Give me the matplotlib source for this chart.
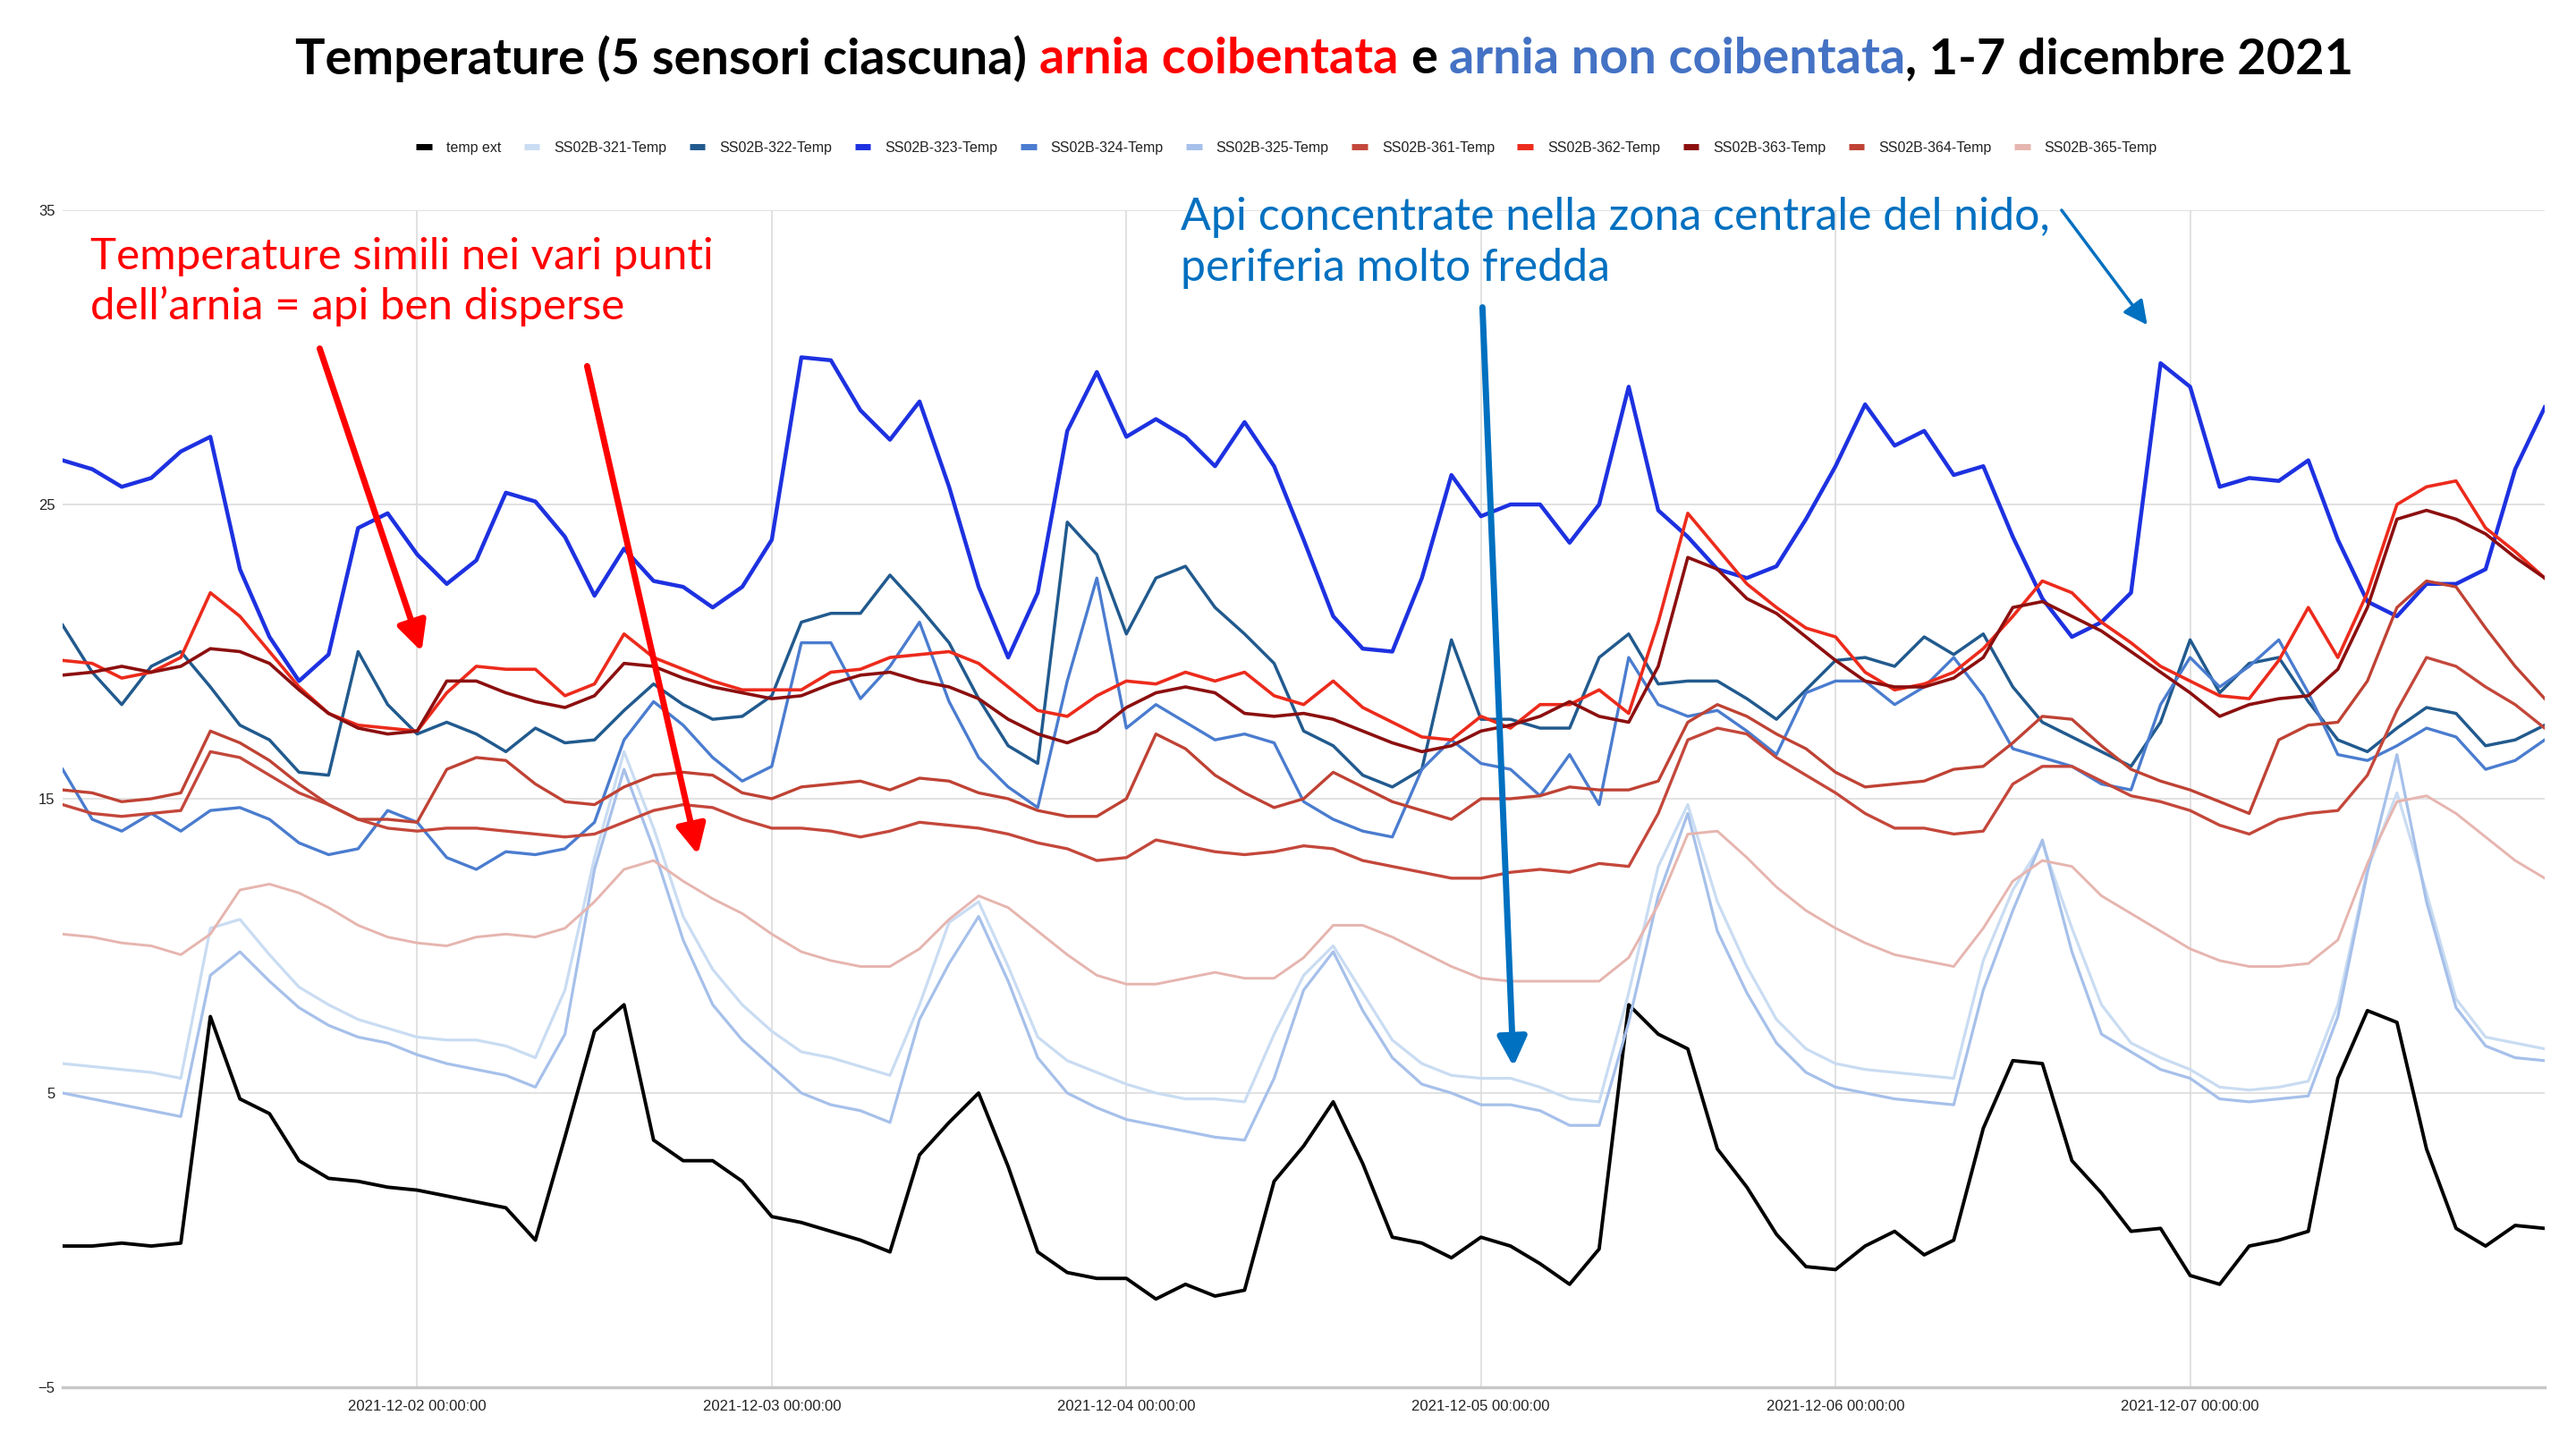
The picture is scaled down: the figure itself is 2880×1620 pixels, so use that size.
import matplotlib
matplotlib.use('Agg')
import matplotlib.pyplot as plt
import matplotlib.dates as mdates
from matplotlib.lines import Line2D
import pandas as pd

# readings every 2 hours, 1 Dec 00:00 -> 8 Dec 00:00
times = pd.date_range('2021-12-01 00:00', '2021-12-08 00:00', freq='2h')

temp_ext = [-0.2, -0.2, -0.1, -0.2, -0.1, 7.6, 4.8, 4.3, 2.7, 2.1, 2.0, 1.8,
            1.7, 1.5, 1.3, 1.1, 0.0, 3.5, 7.1, 8.0, 3.4, 2.7, 2.7, 2.0,
            0.8, 0.6, 0.3, 0.0, -0.4, 2.9, 4.0, 5.0, 2.5, -0.4, -1.1, -1.3,
            -1.3, -2.0, -1.5, -1.9, -1.7, 2.0, 3.2, 4.7, 2.6, 0.1, -0.1, -0.6,
            0.1, -0.2, -0.8, -1.5, -0.3, 8.0, 7.0, 6.5, 3.1, 1.8, 0.2, -0.9,
            -1.0, -0.2, 0.3, -0.5, 0.0, 3.8, 6.1, 6.0, 2.7, 1.6, 0.3, 0.4,
            -1.2, -1.5, -0.2, 0.0, 0.3, 5.5, 7.8, 7.4, 3.1, 0.4, -0.2, 0.5,
            0.4]

ss321 = [6.0, 5.9, 5.8, 5.7, 5.5, 10.6, 10.9, 9.7, 8.6, 8.0, 7.5, 7.2,
         6.9, 6.8, 6.8, 6.6, 6.2, 8.5, 13.0, 16.6, 14.0, 11.0, 9.2, 8.0,
         7.1, 6.4, 6.2, 5.9, 5.6, 8.0, 10.8, 11.5, 9.3, 6.9, 6.1, 5.7,
         5.3, 5.0, 4.8, 4.8, 4.7, 7.0, 9.0, 10.0, 8.4, 6.8, 6.0, 5.6,
         5.5, 5.5, 5.2, 4.8, 4.7, 8.4, 12.7, 14.8, 11.5, 9.3, 7.5, 6.5,
         6.0, 5.8, 5.7, 5.6, 5.5, 9.5, 11.9, 13.5, 10.6, 8.0, 6.7, 6.2,
         5.8, 5.2, 5.1, 5.2, 5.4, 8.0, 12.6, 15.2, 11.8, 8.2, 6.9, 6.7,
         6.5]

ss322 = [20.9, 19.3, 18.2, 19.5, 20.0, 18.8, 17.5, 17.0, 15.9, 15.8, 20.0, 18.2,
         17.2, 17.6, 17.2, 16.6, 17.4, 16.9, 17.0, 18.0, 18.9, 18.2, 17.7, 17.8,
         18.5, 21.0, 21.3, 21.3, 22.6, 21.5, 20.3, 18.4, 16.8, 16.2, 24.4, 23.3,
         20.6, 22.5, 22.9, 21.5, 20.6, 19.6, 17.3, 16.8, 15.8, 15.4, 16.0, 20.4,
         17.7, 17.7, 17.4, 17.4, 19.8, 20.6, 18.9, 19.0, 19.0, 18.4, 17.7, 18.7,
         19.7, 19.8, 19.5, 20.5, 19.9, 20.6, 18.8, 17.6, 17.1, 16.6, 16.1, 17.6,
         20.4, 18.6, 19.6, 19.8, 18.3, 17.0, 16.6, 17.4, 18.1, 17.9, 16.8, 17.0,
         17.5]

ss323 = [26.5, 26.2, 25.6, 25.9, 26.8, 27.3, 22.8, 20.5, 19.0, 19.9, 24.2, 24.7,
         23.3, 22.3, 23.1, 25.4, 25.1, 23.9, 21.9, 23.5, 22.4, 22.2, 21.5, 22.2,
         23.8, 30.0, 29.9, 28.2, 27.2, 28.5, 25.6, 22.2, 19.8, 22.0, 27.5, 29.5,
         27.3, 27.9, 27.3, 26.3, 27.8, 26.3, 23.8, 21.2, 20.1, 20.0, 22.5, 26.0,
         24.6, 25.0, 25.0, 23.7, 25.0, 29.0, 24.8, 23.9, 22.8, 22.5, 22.9, 24.5,
         26.3, 28.4, 27.0, 27.5, 26.0, 26.3, 23.9, 21.8, 20.5, 21.0, 22.0, 29.8,
         29.0, 25.6, 25.9, 25.8, 26.5, 23.8, 21.7, 21.2, 22.3, 22.3, 22.8, 26.2,
         28.3]

ss324 = [16.0, 14.3, 13.9, 14.5, 13.9, 14.6, 14.7, 14.3, 13.5, 13.1, 13.3, 14.6,
         14.2, 13.0, 12.6, 13.2, 13.1, 13.3, 14.2, 17.0, 18.3, 17.5, 16.4, 15.6,
         16.1, 20.3, 20.3, 18.4, 19.5, 21.0, 18.3, 16.4, 15.4, 14.7, 19.0, 22.5,
         17.4, 18.2, 17.6, 17.0, 17.2, 16.9, 14.9, 14.3, 13.9, 13.7, 16.0, 17.0,
         16.2, 16.0, 15.1, 16.5, 14.8, 19.8, 18.2, 17.8, 18.0, 17.3, 16.5, 18.6,
         19.0, 19.0, 18.2, 18.8, 19.8, 18.5, 16.7, 16.4, 16.1, 15.5, 15.3, 18.2,
         19.8, 18.8, 19.5, 20.4, 18.6, 16.5, 16.3, 16.8, 17.4, 17.1, 16.0, 16.3,
         17.0]

ss325 = [5.0, 4.8, 4.6, 4.4, 4.2, 9.0, 9.8, 8.8, 7.9, 7.3, 6.9, 6.7,
         6.3, 6.0, 5.8, 5.6, 5.2, 7.0, 12.6, 16.0, 13.3, 10.2, 8.0, 6.8,
         5.9, 5.0, 4.6, 4.4, 4.0, 7.5, 9.4, 11.0, 8.8, 6.2, 5.0, 4.5,
         4.1, 3.9, 3.7, 3.5, 3.4, 5.5, 8.5, 9.8, 7.8, 6.2, 5.3, 5.0,
         4.6, 4.6, 4.4, 3.9, 3.9, 7.4, 11.7, 14.5, 10.5, 8.4, 6.7, 5.7,
         5.2, 5.0, 4.8, 4.7, 4.6, 8.5, 11.2, 13.6, 9.8, 7.0, 6.4, 5.8,
         5.5, 4.8, 4.7, 4.8, 4.9, 7.6, 12.5, 16.5, 11.5, 7.9, 6.6, 6.2,
         6.1]

ss361 = [14.8, 14.5, 14.4, 14.5, 14.6, 16.6, 16.4, 15.8, 15.2, 14.8, 14.3, 14.0,
         13.9, 14.0, 14.0, 13.9, 13.8, 13.7, 13.8, 14.2, 14.6, 14.8, 14.7, 14.3,
         14.0, 14.0, 13.9, 13.7, 13.9, 14.2, 14.1, 14.0, 13.8, 13.5, 13.3, 12.9,
         13.0, 13.6, 13.4, 13.2, 13.1, 13.2, 13.4, 13.3, 12.9, 12.7, 12.5, 12.3,
         12.3, 12.5, 12.6, 12.5, 12.8, 12.7, 14.5, 17.0, 17.4, 17.2, 16.4, 15.8,
         15.2, 14.5, 14.0, 14.0, 13.8, 13.9, 15.5, 16.1, 16.1, 15.6, 15.1, 14.9,
         14.6, 14.1, 13.8, 14.3, 14.5, 14.6, 15.8, 18.0, 19.8, 19.5, 18.8, 18.2,
         17.4]

ss362 = [19.7, 19.6, 19.1, 19.3, 19.8, 22.0, 21.2, 20.0, 18.8, 17.9, 17.5, 17.4,
         17.3, 18.6, 19.5, 19.4, 19.4, 18.5, 18.9, 20.6, 19.8, 19.4, 19.0, 18.7,
         18.7, 18.7, 19.3, 19.4, 19.8, 19.9, 20.0, 19.6, 18.8, 18.0, 17.8, 18.5,
         19.0, 18.9, 19.3, 19.0, 19.3, 18.5, 18.2, 19.0, 18.1, 17.6, 17.1, 17.0,
         17.8, 17.4, 18.2, 18.2, 18.7, 17.9, 21.0, 24.7, 23.5, 22.3, 21.5, 20.8,
         20.5, 19.3, 18.7, 18.9, 19.3, 20.1, 21.2, 22.4, 22.0, 21.0, 20.3, 19.5,
         19.0, 18.5, 18.4, 19.7, 21.5, 19.8, 22.0, 25.0, 25.6, 25.8, 24.2, 23.4,
         22.5]

ss363 = [19.2, 19.3, 19.5, 19.3, 19.5, 20.1, 20.0, 19.6, 18.7, 17.9, 17.4, 17.2,
         17.3, 19.0, 19.0, 18.6, 18.3, 18.1, 18.5, 19.6, 19.5, 19.1, 18.8, 18.6,
         18.4, 18.5, 18.9, 19.2, 19.3, 19.0, 18.8, 18.4, 17.7, 17.2, 16.9, 17.3,
         18.1, 18.6, 18.8, 18.6, 17.9, 17.8, 17.9, 17.7, 17.3, 16.9, 16.6, 16.8,
         17.3, 17.5, 17.8, 18.3, 17.8, 17.6, 19.5, 23.2, 22.8, 21.8, 21.3, 20.5,
         19.7, 19.0, 18.8, 18.8, 19.1, 19.8, 21.5, 21.7, 21.2, 20.7, 20.0, 19.3,
         18.6, 17.8, 18.2, 18.4, 18.5, 19.4, 21.5, 24.5, 24.8, 24.5, 24.0, 23.2,
         22.5]

ss364 = [15.3, 15.2, 14.9, 15.0, 15.2, 17.3, 16.9, 16.3, 15.5, 14.8, 14.3, 14.3,
         14.2, 16.0, 16.4, 16.3, 15.5, 14.9, 14.8, 15.4, 15.8, 15.9, 15.8, 15.2,
         15.0, 15.4, 15.5, 15.6, 15.3, 15.7, 15.6, 15.2, 15.0, 14.6, 14.4, 14.4,
         15.0, 17.2, 16.7, 15.8, 15.2, 14.7, 15.0, 15.9, 15.4, 14.9, 14.6, 14.3,
         15.0, 15.0, 15.1, 15.4, 15.3, 15.3, 15.6, 17.6, 18.2, 17.8, 17.2, 16.7,
         15.9, 15.4, 15.5, 15.6, 16.0, 16.1, 16.9, 17.8, 17.7, 16.8, 16.0, 15.6,
         15.3, 14.9, 14.5, 17.0, 17.5, 17.6, 19.0, 21.5, 22.4, 22.2, 20.8, 19.5,
         18.4]

ss365 = [10.4, 10.3, 10.1, 10.0, 9.7, 10.4, 11.9, 12.1, 11.8, 11.3, 10.7, 10.3,
         10.1, 10.0, 10.3, 10.4, 10.3, 10.6, 11.5, 12.6, 12.9, 12.2, 11.6, 11.1,
         10.4, 9.8, 9.5, 9.3, 9.3, 9.9, 10.9, 11.7, 11.3, 10.5, 9.7, 9.0,
         8.7, 8.7, 8.9, 9.1, 8.9, 8.9, 9.6, 10.7, 10.7, 10.3, 9.8, 9.3,
         8.9, 8.8, 8.8, 8.8, 8.8, 9.6, 11.4, 13.8, 13.9, 13.0, 12.0, 11.2,
         10.6, 10.1, 9.7, 9.5, 9.3, 10.6, 12.2, 12.9, 12.7, 11.7, 11.1, 10.5,
         9.9, 9.5, 9.3, 9.3, 9.4, 10.2, 12.8, 14.9, 15.1, 14.5, 13.7, 12.9,
         12.3]

labels = ['temp ext', 'SS02B-321-Temp', 'SS02B-322-Temp', 'SS02B-323-Temp',
          'SS02B-324-Temp', 'SS02B-325-Temp', 'SS02B-361-Temp', 'SS02B-362-Temp',
          'SS02B-363-Temp', 'SS02B-364-Temp', 'SS02B-365-Temp']
values = [temp_ext, ss321, ss322, ss323, ss324, ss325,
          ss361, ss362, ss363, ss364, ss365]
colors = ['#000000', '#c9dcf2', '#215a8e', '#1d31e0', '#4a7ccf', '#a6c0ea',
          '#c4473b', '#ec2b1c', '#8c0f0f', '#bf4234', '#e6b5af']
widths = [2.8, 2.3, 2.5, 3.2, 2.4, 2.3, 2.4, 2.6, 2.6, 2.4, 2.1]

fig = plt.figure(figsize=(28.8, 16.2), dpi=100)
ax = fig.add_axes([0.02431, 0.04259, 0.96354, 0.81235])

for vals, c, lw in zip(values, colors, widths):
    ax.plot(times, vals, color=c, lw=lw, solid_joinstyle='round')

ax.set_xlim(pd.Timestamp('2021-12-01'), pd.Timestamp('2021-12-08'))
ax.set_ylim(-5, 35)
ax.set_yticks([-5, 5, 15, 25, 35])
ax.set_xticks(pd.date_range('2021-12-02', '2021-12-07', freq='D'))
ax.xaxis.set_major_formatter(mdates.DateFormatter('%Y-%m-%d %H:%M:%S'))
ax.grid(True, color='#dcdcdc', lw=1.2)
ax.set_axisbelow(True)
for s in ['top', 'right', 'left']:
    ax.spines[s].set_visible(False)
ax.spines['bottom'].set_color('#c8c8c8')
ax.spines['bottom'].set_linewidth(2.5)
tick_font = ['Liberation Sans Narrow', 'Liberation Sans']
ax.tick_params(length=0, labelsize=12, labelcolor='#222222')
ax.tick_params(axis='x', pad=10)
ax.tick_params(axis='y', pad=6)
for lab in ax.get_xticklabels() + ax.get_yticklabels():
    lab.set_family(tick_font)

# legend
handles = [Line2D([], [], color=c, lw=5, solid_capstyle='butt') for c in colors]
fig.legend(handles, labels, loc='center', bbox_to_anchor=(0.4995, 0.898), ncol=11,
           frameon=False, prop={'family': tick_font, 'size': 11.5},
           handlelength=1.1, handletextpad=1.0, columnspacing=1.6,
           labelcolor='#222222')

fig.canvas.draw()
rend = fig.canvas.get_renderer()


def fit_row(parts, x0, y, target, size, weight, family):
    # parts: (text, colour, space_before)
    objs = [fig.text(0, y, s, color=c, fontsize=size, fontweight=weight,
                     family=family, va='center', ha='left') for s, c, _ in parts]
    probe_a = fig.text(0, 0, 'a a', fontsize=size, fontweight=weight, family=family)
    probe_b = fig.text(0, 0, 'aa', fontsize=size, fontweight=weight, family=family)
    space = probe_a.get_window_extent(rend).width - probe_b.get_window_extent(rend).width
    total = sum(o.get_window_extent(rend).width for o in objs)
    total += space * sum(1 for p in parts if p[2])
    scale = target / total
    probe_a.remove()
    probe_b.remove()
    x = x0
    for o, p in zip(objs, parts):
        o.set_fontsize(size * scale)
        if p[2]:
            x += space * scale
        o.set_x(x / 2880)
        x += o.get_window_extent(rend).width


title_family = ['Liberation Sans Narrow', 'Lato']
fit_row([('Temperature (5 sensori ciascuna)', '#000000', False),
         ('arnia coibentata', '#ff0000', True),
         ('e', '#000000', True),
         ('arnia non coibentata', '#4472c4', True),
         (', 1-7 dicembre 2021', '#000000', False)],
        330, 0.9595, 2300, 40, 'bold', title_family)

t0 = pd.Timestamp('2021-12-01')


def at(hours):
    return mdates.date2num(t0 + pd.Timedelta(hours=hours))


# annotations
note_family = ['Lato']
ax.text(at(1.9), 34.1, 'Temperature simili nei vari punti\ndell\u2019arnia = api ben disperse',
        color='#ff0000', fontsize=35.5, family=note_family, va='top', ha='left',
        linespacing=1.3)
ax.text(at(75.7), 35.45, 'Api concentrate nella zona centrale del nido,\nperiferia molto fredda',
        color='#0070c0', fontsize=36, family=note_family, va='top', ha='left',
        linespacing=1.3, clip_on=False)

red_arrow = dict(arrowstyle='-|>,head_length=0.9,head_width=0.45', color='#ff0000',
                 lw=5, shrinkA=0, shrinkB=0, mutation_scale=22)
blue_arrow = dict(arrowstyle='-|>,head_length=0.9,head_width=0.45', color='#0070c0',
                  lw=5, shrinkA=0, shrinkB=0, mutation_scale=22)
thin_blue = dict(arrowstyle='-|>,head_length=0.9,head_width=0.45', color='#0070c0',
                 lw=2.5, shrinkA=0, shrinkB=0, mutation_scale=18)
ax.annotate('', xy=(at(24.3), 20.0), xytext=(at(17.4), 30.3), arrowprops=red_arrow,
            annotation_clip=False)
ax.annotate('', xy=(at(43.0), 13.1), xytext=(at(35.5), 29.7), arrowprops=red_arrow,
            annotation_clip=False)
ax.annotate('', xy=(at(98.2), 5.9), xytext=(at(96.1), 31.7), arrowprops=blue_arrow,
            annotation_clip=False)
ax.annotate('', xy=(at(141.1), 31.1), xytext=(at(135.3), 35.0), arrowprops=thin_blue,
            annotation_clip=False)

fig.savefig('out.png', dpi=100)
